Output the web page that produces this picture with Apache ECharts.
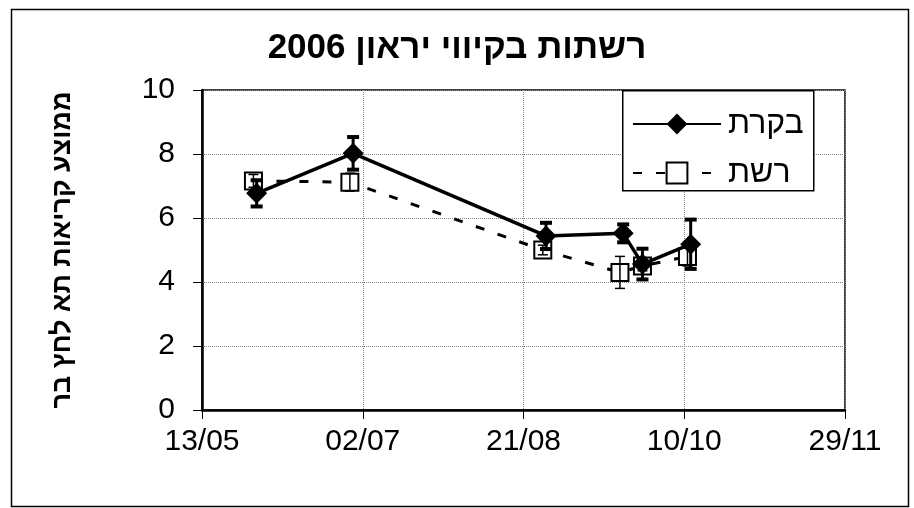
<!DOCTYPE html>
<html>
<head>
<meta charset="utf-8">
<script src="https://cdn.jsdelivr.net/npm/echarts@6/dist/echarts.min.js"></script>
<style>
html,body{margin:0;padding:0;background:#fff;}
#c{width:914px;height:508px;}
</style>
</head>
<body>
<div id="c"></div>
<script>
// ---- data ----
const startDate = '2006-05-13';
const tickLabels = ['13/05', '02/07', '21/08', '10/10', '29/11'];
const yTicks = [0, 2, 4, 6, 8, 10];

const bikoretName = 'בקרת';
const bikoretDates = ['2006-05-30', '2006-06-29', '2006-08-28', '2006-09-21', '2006-09-27', '2006-10-12'];
const bikoretMeans = [6.77, 8.02, 5.44, 5.52, 4.56, 5.18];
const bikoretErr   = [0.41, 0.51, 0.41, 0.28, 0.48, 0.77];

const reshetName = 'רשת';
const reshetDates = ['2006-05-29', '2006-06-28', '2006-08-27', '2006-09-20', '2006-09-27', '2006-10-11'];
const reshetMeans = [7.16, 7.12, 5.00, 4.30, 4.50, 4.80];
const reshetErr   = [0.20, 0.28, 0.15, 0.50, 0.15, 0.30];

const titleText = 'רשתות בקיווי יראון 2006';
const yAxisName = 'ממוצע קריאות תא לחץ בר';

// ---- helpers ----
const DAY = 86400000;
function dayOffset(d) { return (Date.parse(d) - Date.parse(startDate)) / DAY; }
function pts(dates, means) { return dates.map((d, i) => [dayOffset(d), means[i]]); }
function errData(dates, means, errs) { return dates.map((d, i) => [dayOffset(d), means[i] - errs[i], means[i] + errs[i]]); }

const FONT = "'Liberation Sans', Arial, 'DejaVu Sans', sans-serif";

function errorRender(lineW, capW, capLW) {
  return function (params, api) {
    const x = api.value(0);
    const lo = api.coord([x, api.value(1)]);
    const hi = api.coord([x, api.value(2)]);
    const st = { stroke: '#000', lineWidth: lineW, fill: null };
    const cst = { stroke: '#000', lineWidth: capLW, fill: null };
    return {
      type: 'group',
      children: [
        { type: 'line', shape: { x1: lo[0], y1: lo[1], x2: hi[0], y2: hi[1] }, style: st },
        { type: 'line', shape: { x1: lo[0] - capW / 2, y1: lo[1], x2: lo[0] + capW / 2, y2: lo[1] }, style: cst },
        { type: 'line', shape: { x1: hi[0] - capW / 2, y1: hi[1], x2: hi[0] + capW / 2, y2: hi[1] }, style: cst }
      ]
    };
  };
}

const chart = echarts.init(document.getElementById('c'), null, { renderer: 'canvas' });
chart.setOption({
  backgroundColor: '#fff',
  animation: false,
  title: {
    text: '\u202B' + titleText + '\u202C',
    left: 'center',
    top: 26,
    textStyle: { fontFamily: FONT, fontSize: 35, fontWeight: 'bold', color: '#000' }
  },
  graphic: [
    { type: 'rect', left: 9, top: 7, shape: { width: 897, height: 497 }, style: { fill: null, stroke: '#000', lineWidth: 1.5 }, z: 10, silent: true },
    { type: 'rect', left: 622, top: 90, shape: { width: 191, height: 100 }, style: { fill: '#fff', stroke: '#000', lineWidth: 1.5 }, z: 3, silent: true }
  ],
  legend: {
    orient: 'vertical',
    left: 632,
    top: 107,
    padding: 0,
    itemGap: 15,
    itemWidth: 88,
    itemHeight: 26,
    data: [bikoretName, reshetName],
    textStyle: { fontFamily: FONT, fontSize: 32, lineHeight: 34, color: '#000', padding: [0, 0, 0, 2] },
    z: 5
  },
  grid: { left: 202, right: 69, top: 90, bottom: 98, show: true, borderColor: '#000', borderWidth: 1.5 },
  xAxis: {
    type: 'value',
    min: 0, max: 200, interval: 50,
    axisLine: { show: true, lineStyle: { color: '#000', width: 2.5 } },
    axisTick: { show: true, length: 9, lineStyle: { color: '#000', width: 1 } },
    axisLabel: { margin: 17, fontFamily: FONT, fontSize: 30, color: '#000', formatter: v => tickLabels[Math.round(v / 50)] },
    splitLine: { show: true, lineStyle: { color: '#888', type: 'dotted', width: 1 } }
  },
  yAxis: {
    type: 'value',
    min: yTicks[0], max: yTicks[yTicks.length - 1], interval: 2,
    name: yAxisName,
    nameLocation: 'middle',
    nameGap: 126,
    nameRotate: 90,
    nameTextStyle: { fontFamily: FONT, fontSize: 27, fontWeight: 'bold', color: '#000' },
    axisLine: { show: true, lineStyle: { color: '#000', width: 2.5 } },
    axisTick: { show: true, length: 9, lineStyle: { color: '#000', width: 1 } },
    axisLabel: { margin: 27, fontFamily: FONT, fontSize: 30, color: '#000' },
    splitLine: { show: true, lineStyle: { color: '#888', type: 'dotted', width: 1 } }
  },
  series: [
    {
      name: reshetName, type: 'line', data: pts(reshetDates, reshetMeans),
      symbol: 'emptyRect', symbolSize: 17,
      itemStyle: { color: '#000', borderWidth: 1.5 },
      lineStyle: { color: '#000', width: 3, type: [9, 14] },
      z: 2
    },
    {
      name: bikoretName, type: 'line', data: pts(bikoretDates, bikoretMeans),
      symbol: 'diamond', symbolSize: 21,
      itemStyle: { color: '#000' },
      lineStyle: { color: '#000', width: 3.5 },
      z: 3
    },
    {
      name: 'err-reshet', type: 'custom', data: errData(reshetDates, reshetMeans, reshetErr),
      renderItem: errorRender(1.5, 10, 1.5), z: 4, silent: true
    },
    {
      name: 'err-bikoret', type: 'custom', data: errData(bikoretDates, bikoretMeans, bikoretErr),
      renderItem: errorRender(3, 12, 4), z: 4, silent: true
    }
  ]
});
</script>
</body>
</html>
